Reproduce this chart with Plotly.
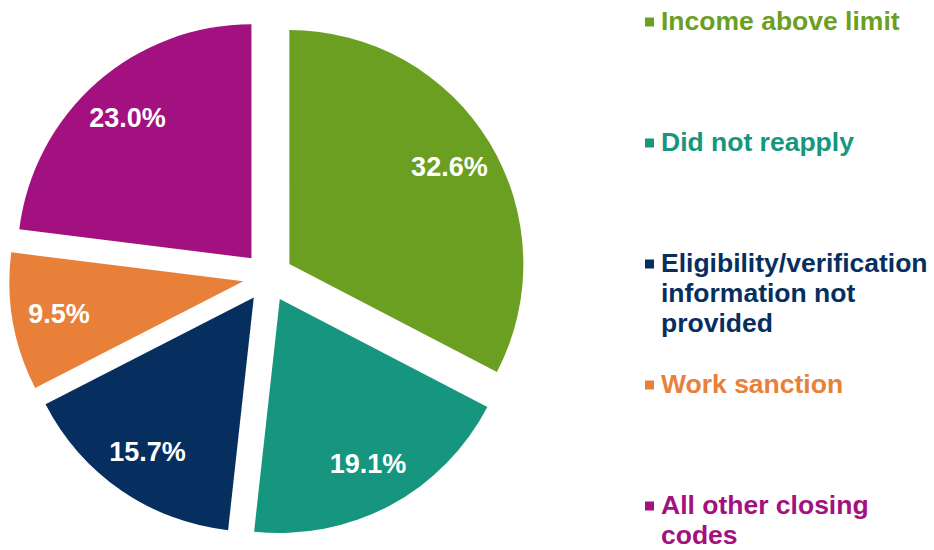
import plotly.graph_objects as go

labels = ["Income above limit", "Did not reapply",
          "Eligibility/verification information not provided",
          "Work sanction", "All other closing codes"]
values = [32.6, 19.1, 15.7, 9.5, 23.0]
colors = ["#6A9F22", "#16967E", "#062F60", "#E8803A", "#A3107F"]
legend_lines = [["Income above limit"], ["Did not reapply"],
                ["Eligibility/verification", "information not", "provided"],
                ["Work sanction"], ["All other closing", "codes"]]

W, H = 934, 550
FONT = "Liberation Sans, Arial, sans-serif"
dom = dict(x=[9 / W, 527 / W], y=[1 - 536 / H, 1 - 18 / H])
pull = [0.107] * len(values)

fig = go.Figure()
fig.add_trace(go.Pie(
    labels=labels, values=values, sort=False,
    direction="clockwise", rotation=0,
    marker=dict(colors=colors, line=dict(width=0)),
    pull=pull, textinfo="none",
    hoverinfo="label+percent", domain=dom, showlegend=False,
))
# transparent ring on top, only to push the % labels out towards the rim
fig.add_trace(go.Pie(
    labels=labels, values=values, sort=False,
    direction="clockwise", rotation=0, hole=0.6,
    marker=dict(colors=["rgba(0,0,0,0)"] * len(values), line=dict(width=0)),
    pull=pull,
    texttemplate="<b>%{value:.1f}%</b>", textposition="inside",
    insidetextorientation="horizontal",
    insidetextfont=dict(family=FONT, size=27, color="white"),
    hoverinfo="skip", domain=dom, showlegend=False,
))

# legend drawn by hand so each entry keeps its own colour
for i, (lines, col) in enumerate(zip(legend_lines, colors)):
    y0 = 21 + 121 * i
    fig.add_shape(type="rect", xref="paper", yref="paper",
                  x0=645 / W, x1=654 / W, y0=1 - (y0 + 5.5) / H, y1=1 - (y0 - 3.5) / H,
                  fillcolor=col, line=dict(width=0))
    for j, txt in enumerate(lines):
        fig.add_annotation(text="<b>" + txt + "</b>", xref="paper", yref="paper",
                           x=659 / W, y=1 - (y0 + 30 * j) / H,
                           xanchor="left", yanchor="middle", showarrow=False,
                           font=dict(family=FONT, size=26.5, color=col))

fig.update_layout(
    width=W, height=H,
    margin=dict(l=0, r=0, t=0, b=0),
    paper_bgcolor="white", plot_bgcolor="white",
)
fig.write_html("out.html", config={"displayModeBar": False},
               post_script="document.body.style.margin='0';")
